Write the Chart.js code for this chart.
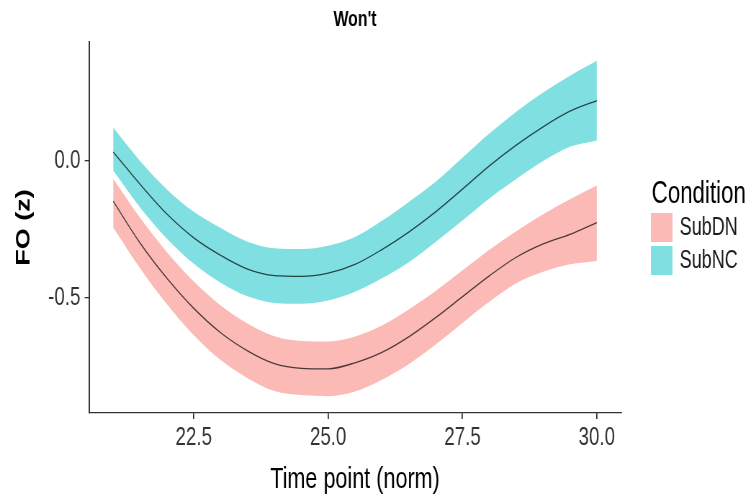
<!DOCTYPE html>
<html>
<head>
<meta charset="utf-8">
<script src="https://cdn.jsdelivr.net/npm/chart.js@4.4.1/dist/chart.umd.min.js"></script>
<style>
  html, body { margin: 0; padding: 0; overflow: hidden; background: #fff; }
  /* the reference is a horizontally squeezed ggplot, so lay out wide and squeeze */
  #wrap { width: 1046px; height: 499px; transform: scaleX(0.72); transform-origin: 0 0; }
</style>
</head>
<body>
<div id="wrap"><canvas id="chart"></canvas></div>
<script>
// --- DATA ---
const timePoints = [21, 21.5, 22, 22.5, 23, 23.5, 24, 24.5, 25, 25.5, 26, 26.5, 27, 27.5, 28, 28.5, 29, 29.5, 30];

const subDNMean = [-0.147, -0.300, -0.429, -0.539, -0.628, -0.694, -0.741, -0.758, -0.760, -0.738, -0.700, -0.643, -0.573, -0.496, -0.420, -0.352, -0.303, -0.268, -0.225];
const subDNLow  = [-0.243, -0.392, -0.524, -0.637, -0.728, -0.794, -0.841, -0.856, -0.860, -0.843, -0.800, -0.743, -0.671, -0.592, -0.515, -0.447, -0.405, -0.378, -0.366];
const subDNHigh = [-0.065, -0.208, -0.334, -0.441, -0.528, -0.594, -0.641, -0.658, -0.660, -0.642, -0.602, -0.543, -0.475, -0.400, -0.325, -0.257, -0.195, -0.140, -0.090];

const subNCMean = [0.033, -0.085, -0.194, -0.281, -0.345, -0.395, -0.419, -0.422, -0.410, -0.378, -0.324, -0.260, -0.186, -0.103, -0.018, 0.058, 0.125, 0.182, 0.221];
const subNCLow  = [-0.035, -0.170, -0.284, -0.376, -0.445, -0.495, -0.519, -0.522, -0.510, -0.478, -0.429, -0.370, -0.296, -0.218, -0.137, -0.066, 0.000, 0.052, 0.075];
const subNCHigh = [0.122, 0.000, -0.104, -0.186, -0.245, -0.295, -0.319, -0.322, -0.310, -0.278, -0.219, -0.150, -0.076, 0.012, 0.100, 0.180, 0.250, 0.312, 0.366];

const conditions = ['SubDN', 'SubNC'];
const xTicks = [22.5, 25.0, 27.5, 30.0];
const yTicks = [-0.5, 0.0];

// --- STYLE ---
const FONT = '"Liberation Sans", Arial, sans-serif';
const conditionColors = ['#FBBAB6', '#80DFE1'];
const meanLineColor = 'rgba(0, 0, 0, 0.7)';
const axisColor = '#333333';

const toPoints = ys => timePoints.map((x, i) => ({ x, y: ys[i] }));

// bands sit under the mean lines (higher order is drawn first)
function bandLow(data) {
    return { data: toPoints(data), order: 1, borderWidth: 0, pointRadius: 0, fill: false, cubicInterpolationMode: 'monotone' };
}
function bandHigh(data, color) {
    return { data: toPoints(data), order: 1, borderWidth: 0, pointRadius: 0, fill: '-1', backgroundColor: color, cubicInterpolationMode: 'monotone' };
}
function meanLine(data) {
    return { data: toPoints(data), order: 0, borderColor: meanLineColor, borderWidth: 1.3, pointRadius: 0, fill: false, cubicInterpolationMode: 'monotone' };
}

// ggplot style legend on the right
const ggLegend = {
    id: 'ggLegend',
    afterDraw(chart) {
        const ctx = chart.ctx;
        const left = 904, top = 213, keyW = 30, keyH = 29, gap = 4;
        ctx.save();
        ctx.fillStyle = '#000';
        ctx.font = '31px ' + FONT;
        ctx.textAlign = 'left';
        ctx.textBaseline = 'alphabetic';
        ctx.fillText('Condition', left + 1, 203);
        ctx.font = '25px ' + FONT;
        ctx.textBaseline = 'middle';
        conditions.forEach((name, i) => {
            const y = top + i * (keyH + gap);
            ctx.fillStyle = conditionColors[i];
            ctx.fillRect(left, y, keyW, keyH);
            ctx.fillStyle = '#1a1a1a';
            ctx.fillText(name, left + keyW + 10, y + keyH / 2 + 1);
        });
        ctx.restore();
    }
};

const ctx = document.getElementById('chart').getContext('2d');
new Chart(ctx, {
    type: 'line',
    data: {
        datasets: [
            bandLow(subDNLow),
            bandHigh(subDNHigh, conditionColors[0]),
            bandLow(subNCLow),
            bandHigh(subNCHigh, conditionColors[1]),
            meanLine(subDNMean),
            meanLine(subNCMean)
        ]
    },
    options: {
        responsive: true,
        maintainAspectRatio: false,
        animation: false,
        layout: { padding: { top: 0, right: 183.5, bottom: 0, left: 0 } },
        plugins: {
            legend: { display: false },
            tooltip: { enabled: false },
            title: {
                display: true,
                text: "Won't",
                fullSize: false,
                color: '#000',
                font: { family: FONT, size: 22, weight: 'bold' },
                padding: { top: 7, bottom: 8.6 }
            }
        },
        scales: {
            x: {
                type: 'linear',
                min: 20.55,
                max: 30.45,
                afterBuildTicks: scale => { scale.ticks = xTicks.map(v => ({ value: v })); },
                afterFit: scale => { scale.height = 86; },
                ticks: {
                    color: '#333',
                    font: { family: FONT, size: 26 },
                    padding: 3,
                    maxRotation: 0,
                    callback: v => Number(v).toFixed(1)
                },
                grid: { drawOnChartArea: false, drawTicks: true, tickLength: 6, color: axisColor, lineWidth: 1.8 },
                border: { display: true, color: axisColor, width: 1.3 },
                title: {
                    display: true,
                    text: 'Time point (norm)',
                    color: '#000',
                    font: { family: FONT, size: 30 },
                    padding: { top: 0, bottom: 1 }
                }
            },
            y: {
                type: 'linear',
                min: -0.9215,
                max: 0.435,
                afterBuildTicks: scale => { scale.ticks = yTicks.map(v => ({ value: v })); },
                afterFit: scale => { scale.width = 123.6; },
                ticks: {
                    color: '#333',
                    font: { family: FONT, size: 26 },
                    padding: 6,
                    callback: v => Number(v).toFixed(1)
                },
                grid: { drawOnChartArea: false, drawTicks: true, tickLength: 6, color: axisColor, lineWidth: 1.3 },
                border: { display: true, color: axisColor, width: 2 },
                title: {
                    display: true,
                    text: 'FO (z)',
                    color: '#000',
                    font: { family: FONT, size: 27, weight: 'bold' },
                    padding: { top: 17, bottom: 0 }
                }
            }
        }
    },
    plugins: [ggLegend]
});
</script>
</body>
</html>
